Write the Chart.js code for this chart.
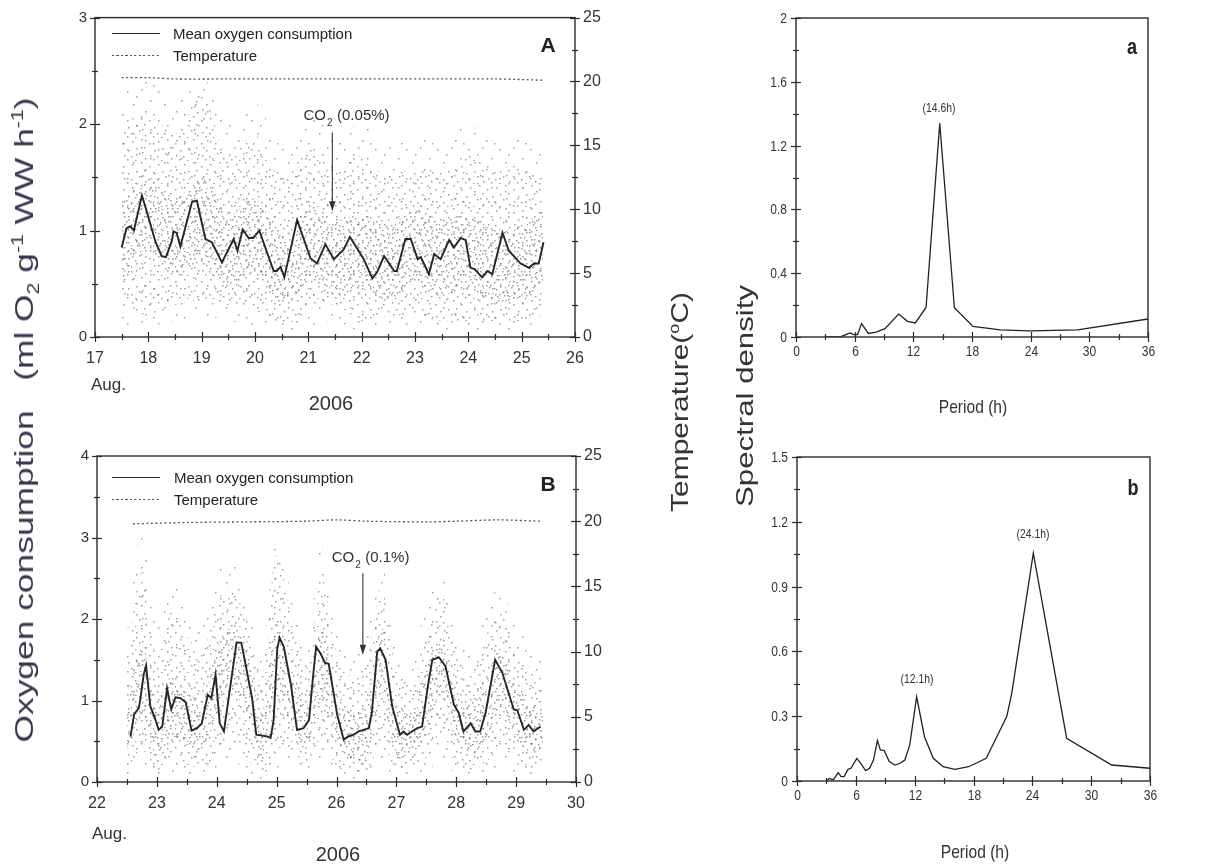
<!DOCTYPE html>
<html><head><meta charset="utf-8">
<script src="https://cdn.jsdelivr.net/npm/chart.js@4.4.1/dist/chart.umd.min.js"></script>
<style>
html,body{margin:0;padding:0;background:#fff;}
body{width:1207px;height:867px;position:relative;overflow:hidden;font-family:"Liberation Sans",Arial,sans-serif;color:#222;}
canvas{position:absolute;}
.t{position:absolute;white-space:nowrap;line-height:1;transform:translate(-50%,-50%);}
.tn{position:absolute;white-space:nowrap;line-height:1;transform:translate(-50%,-50%) scaleX(0.82);}
.tl{position:absolute;white-space:nowrap;line-height:1;transform:translate(0,-50%);}
.rot{position:absolute;white-space:nowrap;line-height:1;}
.rot sup,.rot sub{font-size:60%;line-height:0;}
.ln{position:absolute;height:0;border-top:1.9px solid #262626;}
.dl{position:absolute;height:1.4px;background:repeating-linear-gradient(90deg,#555 0 2px,transparent 2px 4.5px);}
</style></head><body>
<canvas id="cA" width="640" height="420" style="left:0;top:0"></canvas>
<canvas id="ca" width="567" height="420" style="left:640px;top:0"></canvas>
<canvas id="cB" width="640" height="447" style="left:0;top:420px"></canvas>
<canvas id="cb" width="567" height="447" style="left:640px;top:420px"></canvas>

<!-- legends -->
<div class="ln" style="left:112px;top:33px;width:48px"></div>
<div class="tl" style="left:173px;top:33px;font-size:15px">Mean oxygen consumption</div>
<div class="dl" style="left:112px;top:55px;width:48px"></div>
<div class="tl" style="left:173px;top:55px;font-size:15px">Temperature</div>
<div class="ln" style="left:112px;top:477px;width:48px"></div>
<div class="tl" style="left:174px;top:477px;font-size:15px">Mean oxygen consumption</div>
<div class="dl" style="left:112px;top:499px;width:48px"></div>
<div class="tl" style="left:174px;top:499px;font-size:15px">Temperature</div>

<!-- panel letters -->
<div class="t" style="left:548px;top:44px;font-size:21px;font-weight:bold">A</div>
<div class="t" style="left:548px;top:483px;font-size:21px;font-weight:bold">B</div>
<div class="tn" style="left:1132px;top:47px;font-size:22px;font-weight:bold">a</div>
<div class="tn" style="left:1133px;top:488px;font-size:22px;font-weight:bold">b</div>

<!-- x axis titles -->
<div class="tl" style="left:91px;top:384px;font-size:17px;color:#333">Aug.</div>
<div class="t" style="left:331px;top:403px;font-size:20px;color:#333">2006</div>
<div class="tl" style="left:92px;top:833px;font-size:17px;color:#333">Aug.</div>
<div class="t" style="left:338px;top:854px;font-size:20px;color:#333">2006</div>
<div class="tn" style="left:973px;top:406px;font-size:19px;color:#333">Period (h)</div>
<div class="tn" style="left:975px;top:851px;font-size:19px;color:#333">Period (h)</div>

<!-- rotated axis titles -->
<div class="rot" style="left:24px;top:420px;font-size:26px;color:#3d3550;transform:translate(-50%,-50%) rotate(-90deg) scaleX(1.36)">Oxygen consumption&nbsp;&nbsp;&nbsp;(ml O<sub>2</sub> g<sup>-1</sup> WW h<sup>-1</sup>)</div>
<div class="rot" style="left:680px;top:402px;font-size:24px;color:#333;transform:translate(-50%,-50%) rotate(-90deg) scaleX(1.25)">Temperature(<sup>o</sup>C)</div>
<div class="rot" style="left:745px;top:396px;font-size:24px;color:#333;transform:translate(-50%,-50%) rotate(-90deg) scaleX(1.3)">Spectral density</div>

<script>
// ---------- DATA ----------
// Panel A: mean oxygen consumption (day of August 2006, ml O2 g-1 WW h-1)
const dayA = [17.50,17.59,17.66,17.73,17.88,17.97,18.13,18.25,18.33,18.44,18.47,18.53,18.60,18.82,18.91,19.07,19.19,19.38,19.60,19.67,19.77,19.88,19.97,20.08,20.35,20.41,20.48,20.55,20.79,21.04,21.16,21.32,21.48,21.66,21.78,22.04,22.20,22.29,22.42,22.61,22.66,22.82,22.92,23.05,23.11,23.26,23.36,23.48,23.64,23.73,23.86,23.95,24.04,24.11,24.26,24.36,24.45,24.64,24.76,24.98,25.14,25.23,25.32,25.41];
const meanA = [0.84,1.02,1.04,1.00,1.33,1.18,0.90,0.76,0.75,0.90,0.99,0.98,0.85,1.27,1.28,0.92,0.89,0.70,0.92,0.81,1.01,0.93,0.93,1.00,0.62,0.62,0.66,0.56,1.10,0.74,0.69,0.87,0.73,0.82,0.94,0.73,0.55,0.61,0.76,0.62,0.62,0.92,0.92,0.73,0.75,0.59,0.78,0.73,0.91,0.84,0.93,0.91,0.65,0.64,0.56,0.62,0.59,0.98,0.81,0.69,0.65,0.69,0.69,0.89];
// Panel A: temperature (°C)
const tempDayA = [17.5,18.0,18.5,19.5,20.5,21.5,22.5,23.5,24.5,25.4];
const tempA    = [20.3,20.3,20.2,20.2,20.2,20.2,20.2,20.2,20.2,20.1];
// Panel A: spread of the individual measurements (far = very sparse, outer = sparse, inner = dense)
const bandDayA = [17.5,18,18.5,19,19.5,20,20.5,21,21.5,22,22.5,23,23.5,24,24.5,25,25.4];
const farHiA   = [2.3,2.4,2.2,2.45,2.0,2.2,1.8,2.1,1.9,2.0,1.8,1.9,1.8,2.0,1.9,1.9,1.8];
const farLoA   = [0.12,0.1,0.15,0.2,0.15,0.1,0.05,0.1,0.15,0.05,0.1,0.1,0.05,0.05,0.05,0.05,0.1];
const outerHiA = [2.0,2.1,1.9,2.3,1.7,1.9,1.5,1.8,1.6,1.7,1.5,1.6,1.55,1.7,1.6,1.6,1.5];
const outerLoA = [0.3,0.2,0.3,0.35,0.3,0.25,0.1,0.25,0.3,0.15,0.2,0.2,0.15,0.15,0.15,0.15,0.2];
const innerHiA = [1.25,1.5,1.3,1.5,1.15,1.3,0.95,1.2,1.1,1.15,1.05,1.2,1.1,1.15,1.0,1.05,1.2];
const innerLoA = [0.45,0.8,0.6,0.7,0.45,0.6,0.3,0.5,0.4,0.45,0.35,0.5,0.4,0.45,0.3,0.35,0.5];

// Panel B
const dayB = [22.56,22.62,22.70,22.73,22.78,22.82,22.89,22.96,23.03,23.09,23.17,23.24,23.31,23.39,23.48,23.58,23.67,23.75,23.85,23.91,23.98,24.05,24.12,24.33,24.41,24.59,24.66,24.84,24.90,24.95,25.01,25.05,25.12,25.24,25.34,25.45,25.54,25.62,25.66,25.73,25.81,25.87,26.01,26.12,26.20,26.29,26.37,26.45,26.54,26.59,26.68,26.73,26.82,26.93,27.06,27.12,27.18,27.26,27.35,27.43,27.52,27.60,27.71,27.82,27.96,28.04,28.12,28.24,28.32,28.40,28.49,28.65,28.77,28.96,29.02,29.13,29.21,29.29,29.41];
const meanB = [0.56,0.83,0.91,1.05,1.32,1.43,0.93,0.80,0.64,0.68,1.15,0.89,1.04,1.03,0.98,0.63,0.66,0.72,1.07,1.03,1.32,0.72,0.62,1.71,1.71,1.03,0.58,0.56,0.54,0.76,1.63,1.77,1.66,1.19,0.64,0.66,0.76,1.38,1.66,1.58,1.46,1.45,0.83,0.52,0.56,0.58,0.62,0.64,0.66,0.85,1.60,1.64,1.50,0.93,0.58,0.62,0.58,0.62,0.66,0.68,1.15,1.50,1.53,1.42,0.95,0.85,0.62,0.72,0.62,0.62,0.85,1.50,1.34,0.89,0.88,0.64,0.70,0.62,0.68];
const tempDayB = [22.6,23.5,24.5,25.5,26.0,26.5,27.5,28.0,28.7,29.4];
const tempB    = [19.8,19.9,19.95,20.0,20.1,20.0,19.95,20.0,20.1,20.0];
const bandDayB = [22.5,22.75,23.0,23.25,23.5,23.75,24.0,24.25,24.5,24.75,25.0,25.25,25.5,25.75,26.0,26.25,26.5,26.75,27.0,27.25,27.5,27.75,28.0,28.25,28.5,28.75,29.0,29.25,29.45];
const farHiB   = [1.8,3.1,1.9,2.5,2.1,1.9,2.6,2.8,2.3,1.6,3.0,2.3,1.7,2.9,1.9,1.6,1.8,2.7,1.7,1.5,2.2,2.6,1.9,1.6,2.1,2.4,1.9,1.7,1.6];
const farLoB   = [0.05,0.15,0.05,0.1,0.08,0.08,0.1,0.3,0.1,0.03,0.15,0.2,0.05,0.2,0.05,0.03,0.03,0.2,0.05,0.08,0.1,0.3,0.08,0.05,0.1,0.15,0.1,0.05,0.08];
const outerHiB = [1.4,2.6,1.5,2.1,1.8,1.6,2.2,2.4,2.0,1.3,2.8,2.0,1.4,2.5,1.6,1.3,1.5,2.4,1.4,1.2,1.8,2.3,1.6,1.3,1.8,2.1,1.6,1.4,1.3];
const outerLoB = [0.15,0.4,0.1,0.3,0.2,0.2,0.3,0.6,0.3,0.1,0.4,0.4,0.2,0.5,0.2,0.1,0.1,0.5,0.15,0.2,0.3,0.6,0.2,0.15,0.25,0.4,0.3,0.15,0.2];
const innerHiB = [0.9,1.7,1.0,1.3,1.1,1.0,1.6,1.9,1.6,0.85,2.0,1.4,1.0,1.9,1.1,0.85,0.95,1.9,0.9,0.9,1.4,1.8,1.1,1.0,1.2,1.6,1.15,0.95,0.95];
const innerLoB = [0.3,0.8,0.3,0.55,0.45,0.4,0.8,1.1,0.8,0.25,1.0,0.7,0.4,1.0,0.5,0.25,0.3,1.1,0.3,0.35,0.6,1.1,0.5,0.35,0.5,0.9,0.55,0.35,0.4];

// Panel a / b: spectral density vs period (h)
const periodA  = [3.0,4.5,5.1,5.5,5.9,6.3,6.7,7.4,8.2,9.1,10.5,11.4,12.2,13.3,14.7,16.2,18.1,20.9,23.9,28.8,36];
const densityA = [0,0,0.015,0.025,0.015,0.015,0.084,0.022,0.03,0.052,0.144,0.098,0.088,0.185,1.34,0.183,0.066,0.045,0.039,0.045,0.113];
const periodB  = [3.0,3.3,3.7,4.2,4.5,4.8,5.2,5.5,6.1,6.5,7.0,7.4,7.8,8.2,8.5,8.9,9.4,10.0,10.5,11.0,11.5,12.2,13.0,13.9,14.9,16.1,17.5,19.3,21.4,21.9,24.1,27.5,32.1,36];
const densityB = [0,0.012,0.005,0.039,0.02,0.02,0.054,0.059,0.105,0.082,0.048,0.059,0.097,0.187,0.144,0.141,0.09,0.074,0.082,0.097,0.167,0.39,0.205,0.105,0.066,0.054,0.066,0.105,0.30,0.406,1.055,0.198,0.074,0.059];

// peak labels
const peakTextA = ['(14.6h)'];           const peakXA = [14.62];       const peakYA = [1.43];
const peakTextB = ['(12.1h)','(24.1h)']; const peakXB = [12.24,24.07]; const peakYB = [0.47,1.14];

// CO2 annotations: arrow x, arrow top, arrow bottom, text start x, text baseline y
const co2A = {label:'(0.05%)', x:21.45, top:1.92, bottom:1.18, tx:20.91, ty:2.04};
const co2B = {label:'(0.1%)',  x:26.44, top:2.56, bottom:1.56, tx:25.92, ty:2.70};

// tick label steps
const labelStepsA = {x:1, y:1, y2:5};
const labelStepsB = {x:1, y:1, y2:5};
const labelStepsa = {x:6, y:0.4};
const labelStepsb = {x:6, y:0.3};

// ---------- RENDER ----------
const FAM = '"Liberation Sans", Arial, sans-serif';
Chart.defaults.font.family = FAM;
Chart.defaults.color = '#333';
Chart.defaults.animation = false;
Chart.defaults.events = [];
Chart.defaults.plugins.legend.display = false;
Chart.defaults.plugins.tooltip.enabled = false;

const pts = (xs, ys) => xs.map((x,i)=>({x:x, y:ys[i]}));
const isLab = (v, st) => Math.abs(v/st - Math.round(v/st)) < 1e-6;

function scale(pos, min, max, step, labStep, pad, size, font, fmt, color){
  return {
    type:'linear', position:pos, min:min, max:max,
    border:{display:false}, grid:{display:false, drawTicks:false},
    ticks:{stepSize:step, autoSkip:false, maxRotation:0, padding:pad, color:color||'#333', font:font,
      callback:(v)=> isLab(v, labStep) ? (fmt ? fmt(v) : String(v)) : ''},
    afterFit:(s)=>{ if (pos==='bottom') s.height=size; else s.width=size; }
  };
}

function narrowText(ctx, txt, x, y, align, base, sx){
  ctx.save(); ctx.translate(x, y); ctx.scale(sx, 1);
  ctx.textAlign=align; ctx.textBaseline=base; ctx.fillText(txt, 0, 0);
  ctx.restore();
}

function decor(cfg){
  return {id:'decor', afterDraw(chart){
    const ctx=chart.ctx, a=chart.chartArea, sc=chart.scales;
    ctx.save();
    ctx.strokeStyle='#2b2b2b'; ctx.lineWidth=1.4;
    ctx.strokeRect(a.left, a.top, a.right-a.left, a.bottom-a.top);
    ctx.lineWidth=1.2;
    for (const id in sc){
      const s=sc[id];
      for (const t of s.ticks){
        const L = (t.label!=='') ? cfg.major : cfg.minor;
        const p = Math.round(s.getPixelForValue(t.value))+0.5;
        ctx.beginPath();
        if (s.position==='bottom'){ ctx.moveTo(p, a.bottom-L); ctx.lineTo(p, a.bottom+L); }
        else if (s.position==='left'){ ctx.moveTo(a.left-L, p); ctx.lineTo(a.left+L, p); }
        else { ctx.moveTo(a.right-L, p); ctx.lineTo(a.right+L, p); }
        ctx.stroke();
        if (cfg.narrowTicks && t.label!==''){
          ctx.fillStyle='#333'; ctx.font='15px '+FAM;
          if (s.position==='bottom') narrowText(ctx, t.label, p, a.bottom+7, 'center', 'top', 0.8);
          else narrowText(ctx, t.label, a.left-9, p, 'right', 'middle', 0.8);
        }
      }
    }
    if (cfg.co2){
      const c=cfg.co2, x=sc.x.getPixelForValue(c.x), y1=sc.y.getPixelForValue(c.top), y2=sc.y.getPixelForValue(c.bottom);
      ctx.strokeStyle='#333'; ctx.fillStyle='#333'; ctx.lineWidth=1.1;
      ctx.beginPath(); ctx.moveTo(x, y1); ctx.lineTo(x, y2-8); ctx.stroke();
      ctx.beginPath(); ctx.moveTo(x-3.2, y2-10); ctx.lineTo(x+3.2, y2-10); ctx.lineTo(x, y2); ctx.closePath(); ctx.fill();
      const tx=sc.x.getPixelForValue(c.tx), ty=sc.y.getPixelForValue(c.ty);
      ctx.textBaseline='alphabetic'; ctx.textAlign='left';
      ctx.font='15px '+FAM;
      ctx.fillText('CO', tx, ty);
      const w=ctx.measureText('CO').width;
      ctx.font='10px '+FAM;
      ctx.fillText('2', tx+w+1, ty+6);
      ctx.font='15px '+FAM;
      ctx.fillText(c.label, tx+w+11, ty);
    }
    if (cfg.peakText){
      ctx.fillStyle='#333'; ctx.font='13px '+FAM;
      cfg.peakText.forEach((txt,i)=>{
        narrowText(ctx, txt, sc.x.getPixelForValue(cfg.peakX[i]), sc.y.getPixelForValue(cfg.peakY[i]), 'center', 'middle', 0.8);
      });
    }
    ctx.restore();
  }};
}

// stipple tiles that imitate the cloud of individual measurements (style only)
function tile(w, h, dots, color){
  const c=document.createElement('canvas'); c.width=w; c.height=h;
  const g=c.getContext('2d'); g.fillStyle=color;
  for (const d of dots) g.fillRect(d[0], d[1], 1.5, 1.5);
  return c;
}
const farTile   = tile(31,29,[[3,4],[17,2],[26,13],[9,17],[21,24],[12,9],[29,27]],'rgba(120,120,120,0.7)');
const outerTile = tile(26,23,[[2,3],[11,1],[19,5],[24,12],[6,10],[14,9],[20,17],[1,18],[9,15],[15,20],[23,21],[5,22],[12,14]],'rgba(120,120,120,0.7)');
const innerTile = tile(22,21,[[1,1],[7,3],[13,2],[18,6],[3,8],[10,9],[16,11],[21,14],[5,14],[12,16],[18,19],[1,19],[8,20],[14,6],[20,1],[6,12]],'rgba(110,110,110,0.7)');

function timeChart(id, pad, d){
  const cv=document.getElementById(id), ctx=cv.getContext('2d');
  const pF=ctx.createPattern(farTile,'repeat'), pO=ctx.createPattern(outerTile,'repeat'), pI=ctx.createPattern(innerTile,'repeat');
  const band=(ys, fill, bg)=>({data:pts(d.bandDay, ys), fill:fill, backgroundColor:bg, borderColor:'transparent', borderWidth:0, pointRadius:0, tension:0.35, yAxisID:'y'});
  new Chart(cv, {
    type:'line',
    data:{datasets:[
      {data:pts(d.day, d.mean), borderColor:'#262626', borderWidth:1.9, pointRadius:0, tension:0, fill:false, yAxisID:'y'},
      {data:pts(d.tempDay, d.temp), borderColor:'#555', borderWidth:1.3, borderDash:[2,2.5], pointRadius:0, tension:0.3, fill:false, yAxisID:'y2'},
      band(d.farHi, '+1', pF), band(d.farLo, false, 'transparent'),
      band(d.outerHi, '+1', pO), band(d.outerLo, false, 'transparent'),
      band(d.innerHi, '+1', pI), band(d.innerLo, false, 'transparent')
    ]},
    options:{
      responsive:false, maintainAspectRatio:false,
      layout:{padding:pad},
      scales:{
        x: scale('bottom', d.xmin, d.xmax, 0.5, d.lab.x, 12, 35, {size:16}),
        y: scale('left', 0, d.ymax, 0.5, d.lab.y, 8, 40, {size:15}),
        y2: scale('right', 0, 25, 2.5, d.lab.y2, 8, 40, {size:16})
      }
    },
    plugins:[decor({major:5, minor:3, co2:d.co2})]
  });
}

function specChart(id, pad, px, py, ymax, ystep, lab, pt, pX, pY){
  const fmt = v => String(Math.round(v*100)/100);
  const f = {size:15};
  const clear = 'rgba(0,0,0,0)';
  new Chart(document.getElementById(id), {
    type:'line',
    data:{datasets:[{data:pts(px, py), borderColor:'#222', borderWidth:1.3, pointRadius:0, tension:0, fill:false}]},
    options:{
      responsive:false, maintainAspectRatio:false,
      layout:{padding:pad},
      scales:{
        x: scale('bottom', 0, 36, 3, lab.x, 7, 35, f, fmt, clear),
        y: scale('left', 0, ymax, ystep, lab.y, 9, 40, f, fmt, clear)
      }
    },
    plugins:[decor({major:5, minor:3, narrowTicks:true, peakText:pt, peakX:pX, peakY:pY})]
  });
}

timeChart('cA', {left:55, right:25, top:13, bottom:48},
  {day:dayA, mean:meanA, tempDay:tempDayA, temp:tempA, bandDay:bandDayA, farHi:farHiA, farLo:farLoA, outerHi:outerHiA, outerLo:outerLoA, innerHi:innerHiA, innerLo:innerLoA,
   xmin:17, xmax:26, ymax:3, lab:labelStepsA, co2:co2A});
timeChart('cB', {left:57, right:24, top:36, bottom:50},
  {day:dayB, mean:meanB, tempDay:tempDayB, temp:tempB, bandDay:bandDayB, farHi:farHiB, farLo:farLoB, outerHi:outerHiB, outerLo:outerLoB, innerHi:innerHiB, innerLo:innerLoB,
   xmin:22, xmax:30, ymax:4, lab:labelStepsB, co2:co2B});
specChart('ca', {left:116, right:59, top:13, bottom:48}, periodA, densityA, 2, 0.2, labelStepsa, peakTextA, peakXA, peakYA);
specChart('cb', {left:117, right:57, top:37, bottom:51}, periodB, densityB, 1.5, 0.15, labelStepsb, peakTextB, peakXB, peakYB);
</script>
</body></html>
